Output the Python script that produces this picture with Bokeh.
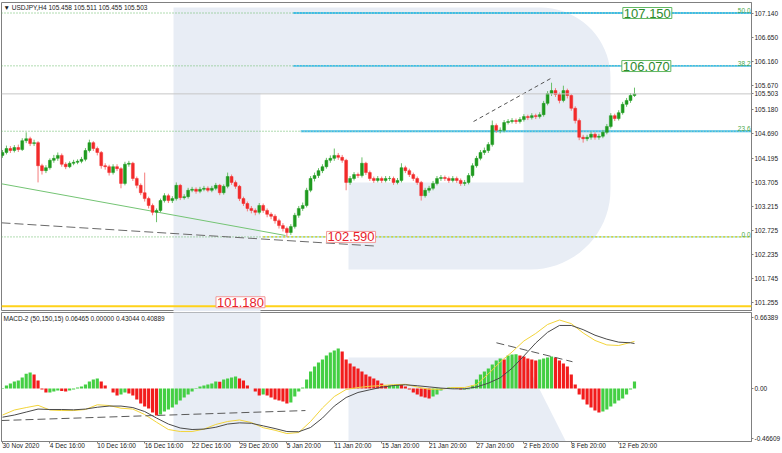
import numpy as np
from bokeh.plotting import figure
from bokeh.layouts import column
from bokeh.models import (Range1d, FixedTicker, Label, Span, ColumnDataSource,
                          CustomJSTickFormatter)
from bokeh.embed import file_html
from bokeh.resources import INLINE

# ---------------- data ----------------
first_open = 104.25
close = [104.31,104.39,104.35,104.41,104.37,104.55,104.59,104.49,104.51,104.04,
         103.94,104.00,104.15,104.19,104.25,104.07,104.02,104.09,104.11,104.13,
         104.17,104.35,104.51,104.39,104.31,104.04,104.02,103.90,104.02,103.98,
         103.68,104.07,104.09,103.78,103.64,103.49,103.37,103.23,103.09,103.13,
         103.33,103.43,103.33,103.37,103.64,103.39,103.41,103.54,103.56,103.52,
         103.56,103.58,103.54,103.58,103.64,103.49,103.62,103.82,103.70,103.62,
         103.37,103.27,103.17,103.13,103.09,103.23,103.13,103.05,103.01,102.92,
         102.82,102.76,102.68,102.80,103.03,103.17,103.23,103.54,103.78,103.84,
         103.94,104.02,104.15,104.19,104.25,104.21,104.15,103.70,103.78,103.86,
         103.84,104.09,103.90,103.78,103.74,103.78,103.74,103.78,103.78,103.70,
         103.74,104.00,103.94,103.86,103.78,103.70,103.43,103.54,103.58,103.68,
         103.78,103.80,103.78,103.74,103.78,103.74,103.68,103.70,103.84,104.04,
         104.19,104.31,104.35,104.47,104.86,104.76,104.76,104.92,104.94,104.96,
         104.94,104.98,105.04,105.02,105.06,105.04,105.08,105.31,105.51,105.57,
         105.49,105.37,105.57,105.47,105.21,104.96,104.62,104.59,104.62,104.68,
         104.62,104.64,104.72,104.84,105.06,105.00,105.12,105.29,105.37,105.47,
         105.503]
high = [104.36,104.45,104.44,104.46,104.47,104.60,104.72,104.63,104.57,104.54,
        104.08,104.05,104.19,104.26,104.31,104.29,104.11,104.13,104.16,104.17,
        104.22,104.40,104.57,104.54,104.43,104.34,104.09,104.06,104.07,104.07,
        104.01,104.12,104.14,104.12,103.82,103.68,103.90,103.41,103.27,103.17,
        103.37,103.48,103.47,103.42,103.70,103.67,103.46,103.59,103.61,103.60,
        103.61,103.63,103.62,103.63,103.69,103.67,103.66,103.90,103.86,103.74,
        103.65,103.41,103.31,103.22,103.17,103.28,103.27,103.17,103.09,103.05,
        102.96,102.87,102.80,102.85,103.08,103.22,103.29,103.59,103.83,103.90,
        103.99,104.07,104.20,104.25,104.39,104.30,104.26,104.18,103.83,103.91,
        103.90,104.21,104.12,103.94,103.82,103.83,103.82,103.83,103.83,103.82,
        103.79,104.09,104.04,103.98,103.90,103.82,103.73,103.59,103.63,103.73,
        103.83,103.85,103.84,103.82,103.83,103.82,103.78,103.75,103.89,104.09,
        104.24,104.36,104.41,104.52,104.96,104.90,104.82,104.97,104.99,105.01,
        105.00,105.03,105.09,105.08,105.11,105.10,105.13,105.36,105.56,105.73,
        105.62,105.53,105.67,105.61,105.50,105.25,105.00,104.67,104.67,104.73,
        104.72,104.69,104.77,104.89,105.11,105.10,105.17,105.34,105.42,105.52,
        105.63]
low = [104.20,104.27,104.30,104.31,104.32,104.34,104.50,104.44,104.44,103.70,
       103.86,103.89,103.96,104.10,104.14,104.02,103.97,103.99,104.05,104.07,
       104.09,104.13,104.31,104.34,104.25,103.98,103.96,103.84,103.86,103.93,
       103.58,103.64,104.02,103.73,103.58,103.44,103.31,103.17,103.03,102.89,
       103.09,103.29,103.28,103.28,103.33,103.34,103.35,103.37,103.50,103.47,
       103.48,103.52,103.50,103.50,103.54,103.44,103.45,103.58,103.65,103.57,
       103.32,103.22,103.11,103.07,103.03,103.05,103.08,102.99,102.95,102.86,
       102.76,102.70,102.59,102.63,102.76,102.98,103.12,103.19,103.50,103.72,
       103.79,103.89,103.98,104.10,104.14,104.16,104.10,103.54,103.65,103.74,
       103.79,103.80,103.85,103.73,103.69,103.70,103.69,103.70,103.73,103.65,
       103.66,103.70,103.89,103.81,103.73,103.65,103.33,103.39,103.49,103.54,
       103.64,103.73,103.73,103.69,103.70,103.69,103.63,103.63,103.66,103.80,
       104.00,104.15,104.26,104.30,104.43,104.71,104.70,104.72,104.88,104.90,
       104.89,104.90,104.94,104.97,104.98,104.99,105.00,105.04,105.27,105.46,
       105.44,105.31,105.33,105.41,105.16,104.90,104.56,104.51,104.54,104.57,
       104.57,104.57,104.60,104.68,104.80,104.95,104.96,105.08,105.24,105.32,
       105.44]
macd_hist = [0.005,0.028,0.047,0.065,0.075,0.103,0.137,0.150,0.131,0.075,
             -0.009,-0.037,-0.037,-0.028,-0.019,-0.023,-0.028,-0.019,-0.009,0.009,
             0.019,0.037,0.065,0.084,0.093,0.065,0.028,0.000,-0.037,-0.065,
             -0.056,-0.037,-0.047,-0.065,-0.103,-0.140,-0.168,-0.187,-0.224,-0.252,
             -0.243,-0.215,-0.196,-0.178,-0.150,-0.112,-0.084,-0.056,-0.028,0.005,
             0.019,0.028,0.037,0.047,0.065,0.062,0.084,0.093,0.103,0.112,
             0.093,0.075,0.028,0.000,-0.028,-0.065,-0.056,-0.065,-0.084,-0.103,
             -0.112,-0.121,-0.140,-0.131,-0.075,-0.028,0.009,0.084,0.159,0.206,
             0.243,0.271,0.308,0.336,0.355,0.374,0.346,0.271,0.234,0.206,
             0.187,0.159,0.131,0.112,0.093,0.075,0.047,0.028,0.030,0.033,
             0.037,0.035,0.019,-0.009,-0.037,-0.056,-0.075,-0.084,-0.093,-0.075,
             -0.056,-0.019,0.000,0.009,0.009,0.005,-0.009,-0.009,-0.007,0.028,
             0.084,0.131,0.159,0.187,0.224,0.262,0.280,0.271,0.308,0.318,
             0.320,0.308,0.299,0.280,0.271,0.262,0.271,0.280,0.290,0.299,
             0.290,0.262,0.234,0.206,0.131,0.037,-0.056,-0.103,-0.150,-0.178,
             -0.206,-0.224,-0.215,-0.196,-0.168,-0.140,-0.112,-0.093,-0.056,-0.009,
             0.065]
# MACD lines, sampled every 3rd candle plus the last one
macd_yellow = [-0.248,-0.201,-0.178,-0.157,-0.201,-0.206,-0.206,-0.196,-0.152,-0.159,
               -0.184,-0.192,-0.243,-0.315,-0.383,-0.402,-0.402,-0.379,-0.336,-0.308,
               -0.294,-0.318,-0.366,-0.390,-0.421,-0.411,-0.308,-0.182,-0.075,-0.009,
               0.009,0.021,0.028,0.036,0.039,0.014,-0.007,-0.007,0.009,0.009,
               0.037,0.136,0.248,0.341,0.444,0.514,0.598,0.640,0.606,0.519,
               0.449,0.407,0.402,0.430,0.440]
macd_gray = [-0.268,-0.248,-0.220,-0.192,-0.196,-0.196,-0.199,-0.192,-0.175,-0.164,
             -0.164,-0.178,-0.215,-0.276,-0.332,-0.369,-0.383,-0.379,-0.362,-0.332,
             -0.321,-0.325,-0.349,-0.374,-0.402,-0.404,-0.364,-0.276,-0.164,-0.084,
             -0.037,-0.012,0.012,0.028,0.035,0.026,0.015,0.004,-0.003,-0.003,
             0.014,0.050,0.100,0.189,0.304,0.425,0.525,0.589,0.589,0.550,
             0.498,0.461,0.433,0.427,0.420]

date_labels = ["30 Nov 2020", "4 Dec 16:00", "10 Dec 16:00", "16 Dec 16:00",
               "22 Dec 16:00", "29 Dec 20:00", "5 Jan 20:00", "11 Jan 20:00",
               "15 Jan 20:00", "21 Jan 20:00", "27 Jan 20:00", "2 Feb 20:00",
               "8 Feb 20:00", "12 Feb 20:00"]
date_bars = [0, 24, 48, 72, 96, 120, 144, 168, 192, 216, 240, 264, 288, 312]
price_ticks = [107.140, 106.650, 106.160, 105.670, 105.180, 104.690, 104.195,
               103.705, 103.215, 102.725, 102.235, 101.745, 101.255]
macd_ticks = [0.66389, 0.0, -0.46609]

fib_low, fib_high = 102.590, 111.710
fib_levels = [0.0, 23.6, 38.2, 50.0]
fib_start_bar = [132, 151, 147, 147]
last_price = 105.503
support_price = 101.180
big_labels = [("107.150", 107.150, "green"), ("106.070", 106.070, "green"),
              ("102.590", 102.590, "red"), ("101.180", 101.260, "red")]
big_label_bars = [326.5, 326.0, 176.5, 120.5]
title_text = "\u25BC USDJPY,H4  105.458 105.511 105.455 105.503"
macd_title = "MACD-2 (50,150,15) 0.06465 0.00000 0.43044 0.40889"

# trend / channel lines (bar, value) pairs
green_trend = [(-0.5, 103.672), (143.3, 102.619)]
gray_dash_low = [(-0.5, 102.877), (190.0, 102.401)]
gray_dash_high = [(238.5, 104.940), (278.5, 105.837)]
macd_dash_1 = [(-0.5, -0.299), (153.4, -0.206)]
macd_dash_2 = [(250.1, 0.427), (288.6, 0.250)]

# ---------------- geometry ----------------
FONT = "Liberation Sans"
FW, FH_MAIN, FH_MACD = 750, 309, 129
PXB = 1.975                       # pixels per H4 bar
XR = Range1d(-0.5, -0.5 + FW / PXB)
YM = Range1d(101.071, 107.364)
YD = Range1d(-0.495, 0.710)

def fx(px):  # page pixel -> bar (decoration placement only)
    return XR.start + (px - 1.0) / PXB

def fym(py):
    return YM.end - (py - 2.0) / FH_MAIN * (YM.end - YM.start)

def fyd(py):
    return YD.end - (py - 312.0) / FH_MACD * (YD.end - YD.start)

WM = "#e8edf5"

def style_axis(ax):
    ax.major_label_text_font = FONT
    ax.major_label_text_font_size = "6.5px"
    ax.major_label_text_color = "#222222"
    ax.axis_line_color = "#808080"
    ax.major_tick_line_color = "#808080"
    ax.minor_tick_line_color = None
    ax.major_tick_out = 2
    ax.major_tick_in = 0
    ax.major_label_standoff = 1

# ---------------- main price pane ----------------
p = figure(frame_width=FW, frame_height=FH_MAIN, x_range=XR, y_range=YM,
           output_backend="svg", toolbar_location=None,
           min_border_left=1, min_border_right=30, min_border_top=2, min_border_bottom=0,
           x_axis_location=None, y_axis_location="right",
           outline_line_color="#808080", background_fill_color="white",
           border_fill_color="white")
p.grid.visible = False
style_axis(p.yaxis[0])
p.yaxis.ticker = FixedTicker(ticks=price_ticks + [last_price])
p.yaxis.formatter = CustomJSTickFormatter(code="return tick.toFixed(3);")

# watermark "R" (decoration)
t1 = np.linspace(np.pi / 2, 0, 20)
t2 = np.linspace(0, -np.pi / 2, 20)
wx = ([173, 540] + list(540 + 70 * np.cos(t1)) + [610] + list(530 + 80 * np.cos(t2)) +
      [348, 348, 523, 523, 260, 260, 173])
wy = ([7, 7] + list(77 - 70 * np.sin(t1)) + [189] + list(189 - 80 * np.sin(t2)) +
      [269, 182, 182, 93, 93, 330, 330])
p.patch([fx(v) for v in wx], [fym(v) for v in wy], fill_color=WM, line_color=None)

# fib levels
for lvl, sb in zip(fib_levels, fib_start_bar):
    lv = fib_low + (fib_high - fib_low) * lvl / 100.0
    p.line([XR.start, sb], [lv, lv], line_color="#62b862", line_width=1, line_dash="1 2")
    if lvl == 0.0:
        p.line([sb, XR.end], [lv, lv], line_color="#7fd3ee", line_width=1)
        p.line([sb, XR.end], [lv, lv], line_color="#e2cf00", line_width=1.2, line_dash="2 2")
    else:
        p.line([sb, XR.end], [lv, lv], line_color="#3cbbe8", line_width=1.8)
        p.line([sb, XR.end], [lv, lv], line_color="#f3e9a0", line_width=0.8, line_dash="1 2")
    p.add_layout(Label(x=fx(750), y=lv, text=f"{lvl:.1f}", text_align="right",
                       text_baseline="bottom", y_offset=0, text_font=FONT,
                       text_font_size="6.5px", text_color="#4aa84a"))

p.add_layout(Span(location=support_price, dimension="width", line_color="#ffd21a", line_width=2))
p.add_layout(Span(location=last_price, dimension="width", line_color="#c6c6c6", line_width=1))

for seg, col, dash in [(green_trend, "#74c474", "solid"), (gray_dash_low, "#6a6a6a", "9 4"),
                       (gray_dash_high, "#555555", "4 3")]:
    p.line([seg[0][0], seg[1][0]], [seg[0][1], seg[1][1]], line_color=col,
           line_width=1, line_dash=dash)

# candles
n = len(close)
bars = 2 * np.arange(n)
c = np.array(close)
o = np.concatenate([[first_open], c[:-1]])
up = c >= o
src = ColumnDataSource(dict(x=bars, top=np.maximum(o, c), bottom=np.minimum(o, c),
                            hi=high, lo=low,
                            body=np.where(up, "#1f9a1f", "#f22a2a"),
                            wick=np.where(up, "#69bf69", "#f47c7c")))
p.segment(x0="x", x1="x", y0="lo", y1="hi", source=src, line_color="wick", line_width=1)
p.vbar(x="x", top="top", bottom="bottom", width=1.45, source=src,
       fill_color="body", line_color="body", line_width=0.5)

# labels
for (txt, yv, kind), bx in zip(big_labels, big_label_bars):
    tc, bc = ("#2e8b2e", "#62b862") if kind == "green" else ("#e8212b", "#f29a9a")
    p.add_layout(Label(x=bx, y=yv, text=txt, text_align="center", text_baseline="middle",
                       text_font=FONT, text_font_size="13px", text_color=tc,
                       background_fill_color="white", border_line_color=bc,
                       border_line_width=1, padding=1))
p.add_layout(Label(x=fx(3), y=fym(6.5), text=title_text, text_align="left",
                   text_baseline="middle", text_font=FONT, text_font_size="6.5px",
                   text_color="#1a1a1a"))

# ---------------- MACD pane ----------------
q = figure(frame_width=FW, frame_height=FH_MACD, x_range=XR, y_range=YD,
           output_backend="svg", toolbar_location=None,
           min_border_left=1, min_border_right=30, min_border_top=1, min_border_bottom=11,
           x_axis_location="below", y_axis_location="right",
           outline_line_color="#808080", background_fill_color="white",
           border_fill_color="white")
q.grid.visible = False
style_axis(q.yaxis[0])
style_axis(q.xaxis[0])
q.yaxis.ticker = FixedTicker(ticks=macd_ticks)
q.yaxis.formatter = CustomJSTickFormatter(
    code="if (Math.abs(tick) < 1e-9) { return '0.00'; } return tick.toFixed(5);")
q.xaxis.ticker = FixedTicker(ticks=date_bars)
q.xaxis.formatter = CustomJSTickFormatter(
    args=dict(labels={str(b): s for b, s in zip(date_bars, date_labels)}),
    code="return labels[String(tick)] || '';")
q.xaxis.major_label_orientation = -0.0001   # tiny angle -> labels start at their ticks
q.xaxis.major_label_standoff = 2

# watermark parts in this pane
q.patch([fx(v) for v in [173, 260, 260, 173]], [fyd(v) for v in [300, 300, 460, 460]],
        fill_color=WM, line_color=None)
q.patch([fx(v) for v in [348, 523, 575, 348]], [fyd(v) for v in [357, 357, 460, 460]],
        fill_color=WM, line_color=None)

h = np.array(macd_hist)
hcol = ["#44cf44" if (i == 0 or h[i] >= h[i - 1]) else "#f21c1c" for i in range(len(h))]
q.vbar(x=bars, top=h, bottom=0, width=1.6, fill_color=hcol, line_color=None)

line_idx = list(range(0, n - 1, 3)) + [n - 1]
lx = bars[line_idx]
q.line(lx, macd_yellow, line_color="#f2d43a", line_width=1)
q.line(lx, macd_gray, line_color="#4a4a4a", line_width=1)
for seg in (macd_dash_1, macd_dash_2):
    q.line([seg[0][0], seg[1][0]], [seg[0][1], seg[1][1]], line_color="#5a5a5a",
           line_width=1, line_dash="8 4")
q.add_layout(Label(x=fx(3), y=fyd(318), text=macd_title, text_align="left",
                   text_baseline="middle", text_font=FONT, text_font_size="6.5px",
                   text_color="#1a1a1a"))

layout = column(p, q, spacing=0)
open("out.html", "w").write(file_html(layout, INLINE))
